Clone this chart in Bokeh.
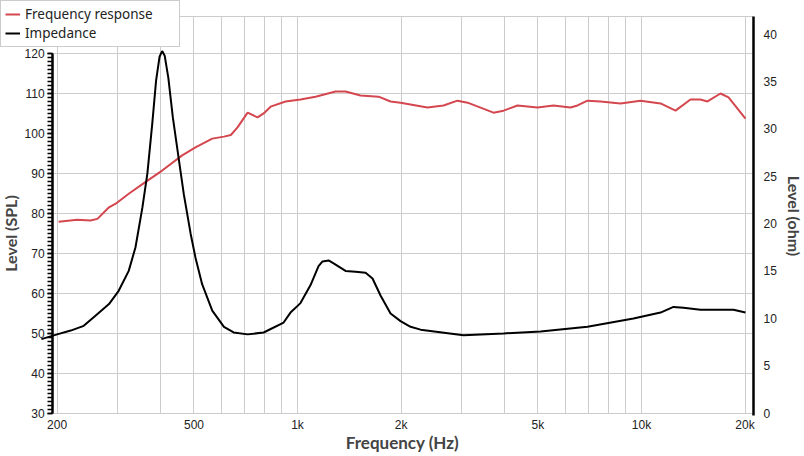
from bokeh.plotting import figure
from bokeh.models import (LinearAxis, Range1d, FixedTicker, SingleIntervalTicker,
                          CustomJSTickFormatter, Legend, LegendItem)
from bokeh.embed import file_html
from bokeh.resources import INLINE

# frequency response, level (SPL) on the left axis
fr_freq = [202, 229, 250, 262, 283, 296, 323, 361, 404, 462, 505, 565, 611, 640,
           669, 716, 765, 797, 835, 923, 1020, 1128, 1290, 1379, 1525, 1720,
           1864, 1993, 2387, 2657, 2918, 3121, 3713, 3970, 4361, 4985, 5549,
           6218, 6516, 6967, 7600, 8690, 9934, 11360, 12560, 13880, 14840,
           15560, 16970, 17910, 20060]
fr_level = [77.9, 78.4, 78.2, 78.6, 81.5, 82.4, 84.9, 87.8, 90.7, 94.5, 96.5,
            98.7, 99.2, 99.6, 101.5, 105.2, 104.0, 105.0, 106.7, 108.0, 108.5,
            109.2, 110.5, 110.5, 109.5, 109.2, 108.0, 107.7, 106.5, 107.0, 108.2,
            107.7, 105.2, 105.7, 107.0, 106.5, 107.0, 106.5, 107.0, 108.2, 108.0,
            107.5, 108.2, 107.5, 105.7, 108.5, 108.5, 108.0, 110.0, 109.0, 103.7]

# impedance, ohm on the right axis
imp_freq = [180, 200, 219, 239, 259, 283, 302, 323, 338, 354, 366, 378, 388, 397,
            404, 411, 421, 434, 452, 467, 489, 505, 528, 565, 611, 652, 716, 797,
            911, 954, 1020, 1091, 1151, 1182, 1231, 1273, 1379, 1475, 1577, 1652,
            1743, 1864, 1993, 2131, 2279, 3038, 3970, 5087, 6967, 9478, 11360,
            12390, 13250, 14840, 18510, 20060]
imp_ohm = [7.8, 8.3, 8.7, 9.2, 10.3, 11.5, 12.9, 15.0, 17.5, 21.7, 25.3, 30.5,
           35.1, 37.6, 38.2, 37.7, 35.4, 31.2, 26.7, 23.1, 18.9, 16.4, 13.6, 10.8,
           9.1, 8.5, 8.3, 8.5, 9.55, 10.6, 11.6, 13.5, 15.5, 16.0, 16.1, 15.8,
           15.0, 14.9, 14.8, 14.2, 12.4, 10.5, 9.7, 9.1, 8.8, 8.2, 8.4, 8.6, 9.1,
           9.97, 10.6, 11.2, 11.1, 10.9, 10.9, 10.6]

x_label_ticks = [200, 500, 1000, 2000, 5000, 10000, 20000]
x_grid_ticks = [200, 300, 400, 500, 600, 700, 800, 900, 1000, 2000, 3000, 4000,
                5000, 6000, 7000, 8000, 9000, 10000, 20000]
spl_grid_ticks = [30, 40, 50, 60, 70, 80, 90, 110, 120]
ohm_ticks = [0, 5, 10, 15, 20, 25, 30, 35, 40]

# layout: the frame fills the canvas, axes sit at fixed data positions
X_START, X_END = 136.9, 29780
SPL_START, SPL_END = 19.11, 133.28
OHM_START, OHM_END = -4.59, 43.54
LEFT_AXIS_AT = 194
RIGHT_AXIS_AT = 21160
BOTTOM_AXIS_AT = 30
FRAME_TOP = 129.27

RED = "#d4474f"
GRID = "#cccccc"
TICK_FONT = "Liberation Sans"
TITLE_FONT = "Lato"

p = figure(width=804, height=456, x_axis_type="log",
           x_range=Range1d(X_START, X_END), y_range=Range1d(SPL_START, SPL_END),
           output_backend="svg", toolbar_location=None, min_border=0)
p.outline_line_color = None
p.background_fill_color = "white"
p.border_fill_color = "white"

p.extra_y_ranges = {"ohm": Range1d(OHM_START, OHM_END)}

r_fr = p.line(fr_freq, fr_level, line_color=RED, line_width=2)
r_imp = p.line(imp_freq, imp_ohm, line_color="black", line_width=2,
               y_range_name="ohm")

# grids
p.xgrid.ticker = FixedTicker(ticks=x_grid_ticks)
p.xgrid.cross_bounds = (BOTTOM_AXIS_AT, FRAME_TOP)
p.ygrid.ticker = FixedTicker(ticks=spl_grid_ticks + [FRAME_TOP])
p.ygrid.cross_bounds = (LEFT_AXIS_AT, RIGHT_AXIS_AT)
for g in (p.xgrid, p.ygrid):
    g.axis = None
    g.grid_line_color = GRID
    g.grid_line_width = 1

# x axis
xa = p.xaxis[0]
xa.fixed_location = BOTTOM_AXIS_AT
xa.ticker = FixedTicker(ticks=x_label_ticks)
xa.formatter = CustomJSTickFormatter(
    code="return tick >= 1000 ? (tick / 1000) + 'k' : tick.toString();")
xa.axis_line_color = None
xa.major_tick_line_color = None
xa.minor_tick_line_color = None
xa.major_tick_out = 0
xa.minor_tick_out = 0
xa.major_label_standoff = 5
xa.major_label_text_font = TICK_FONT
xa.major_label_text_font_size = "12px"
xa.major_label_text_color = "#222222"
xa.axis_label = "Frequency (Hz)"
xa.axis_label_text_font = TITLE_FONT
xa.axis_label_text_font_style = "bold"
xa.axis_label_text_font_size = "17px"
xa.axis_label_standoff = -4

# left axis
ya = p.yaxis[0]
ya.fixed_location = LEFT_AXIS_AT
ya.ticker = SingleIntervalTicker(interval=10, num_minor_ticks=10)
ya.bounds = (30, 120)
ya.axis_line_width = 2.5
ya.axis_line_color = "black"
ya.major_tick_in = 0
ya.major_tick_out = 5
ya.minor_tick_in = 0
ya.minor_tick_out = 5
ya.major_tick_line_width = 1.5
ya.minor_tick_line_width = 1.5
ya.major_label_standoff = 3
ya.major_label_text_font = TICK_FONT
ya.major_label_text_font_size = "12px"
ya.major_label_text_color = "#222222"
ya.axis_label = "Level (SPL)"
ya.axis_label_text_font = TITLE_FONT
ya.axis_label_text_font_style = "bold"
ya.axis_label_text_font_size = "16px"
ya.axis_label_standoff = 1

# right axis
ra = LinearAxis(y_range_name="ohm", ticker=FixedTicker(ticks=ohm_ticks),
                axis_label="Level (ohm)", fixed_location=RIGHT_AXIS_AT)
ra.bounds = (-0.3, 41.85)
ra.axis_line_width = 2.5
ra.axis_line_color = "black"
ra.major_tick_line_color = None
ra.minor_tick_line_color = None
ra.major_tick_out = 0
ra.major_tick_in = 0
ra.minor_tick_out = 0
ra.major_label_standoff = 10
ra.major_label_text_font = TICK_FONT
ra.major_label_text_font_size = "12px"
ra.major_label_text_color = "#222222"
ra.axis_label_text_font = TITLE_FONT
ra.axis_label_text_font_style = "bold"
ra.axis_label_text_font_size = "16px"
ra.axis_label_standoff = 5
p.add_layout(ra, "right")

legend = Legend(items=[LegendItem(label="Frequency response", renderers=[r_fr]),
                       LegendItem(label="Impedance", renderers=[r_imp])],
                location="top_left")
legend.label_text_font = "Noto Sans"
legend.label_text_font_size = "13.5px"
legend.label_text_color = "#222222"
legend.label_height = 18
legend.glyph_height = 18
legend.glyph_width = 15
legend.label_width = 150
legend.label_standoff = 5
legend.spacing = 1
legend.padding = 4
legend.margin = 0
legend.border_line_color = "#999999"
legend.border_line_width = 1
legend.background_fill_alpha = 1
p.add_layout(legend, "center")

open("out.html", "w").write(file_html(p, INLINE))
